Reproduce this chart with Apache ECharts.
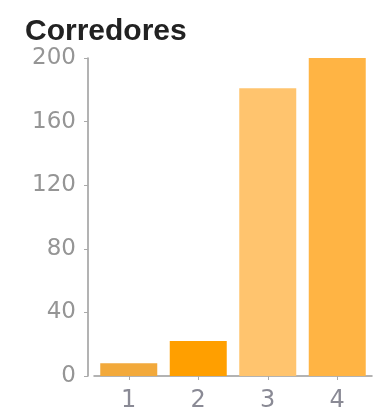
<!DOCTYPE html>
<html lang="es">
<head>
    <meta charset="UTF-8">
    <title>Corredores</title>
    <script src="https://cdn.jsdelivr.net/npm/echarts@6/dist/echarts.min.js"></script>
    <style>
        body { margin: 0; background: #fff; }
        #root { width: 386px; height: 413px; }
    </style>
</head>
<body>
    <div id="root"></div>
    <script>
        // datos
        var categorias = ['1', '2', '3', '4'];
        var valores = [8, 22, 181, 200];
        var colores = ['#F2A93B', '#FF9F00', '#FFC46E', '#FFB444'];
        var yTicks = [0, 40, 80, 120, 160, 200];

        var mychart = echarts.init(document.getElementById('root'));

        mychart.setOption({
            animation: false,
            title: {
                text: 'Corredores',
                left: 20,
                top: 12,
                textStyle: {
                    fontFamily: 'Liberation Sans',
                    fontSize: 30,
                    fontWeight: 'bold',
                    color: '#222'
                }
            },
            grid: {
                left: 94,
                right: 14,
                top: 58,
                bottom: 35
            },
            xAxis: {
                type: 'category',
                data: categorias,
                axisLine: { lineStyle: { color: '#9a9a9a', width: 1.5 } },
                axisTick: { show: true, alignWithLabel: true, length: 4, lineStyle: { color: '#aaa' } },
                axisLabel: {
                    fontFamily: 'DejaVu Sans',
                    fontSize: 24,
                    color: '#8a8a95',
                    margin: 13
                }
            },
            yAxis: {
                type: 'value',
                min: yTicks[0],
                max: yTicks[yTicks.length - 1],
                interval: 40,
                offset: 6,
                axisLine: { show: true, lineStyle: { color: '#9a9a9a', width: 1.5 } },
                axisTick: { show: true, length: 4, lineStyle: { color: '#aaa' } },
                splitLine: { show: false },
                axisLabel: {
                    fontFamily: 'DejaVu Sans',
                    fontSize: 23,
                    color: '#959595',
                    margin: 12
                }
            },
            series: [{
                type: 'bar',
                barWidth: 57,
                data: valores.map(function (v, i) {
                    return { value: v, itemStyle: { color: colores[i] } };
                })
            }]
        });
    </script>
</body>
</html>
